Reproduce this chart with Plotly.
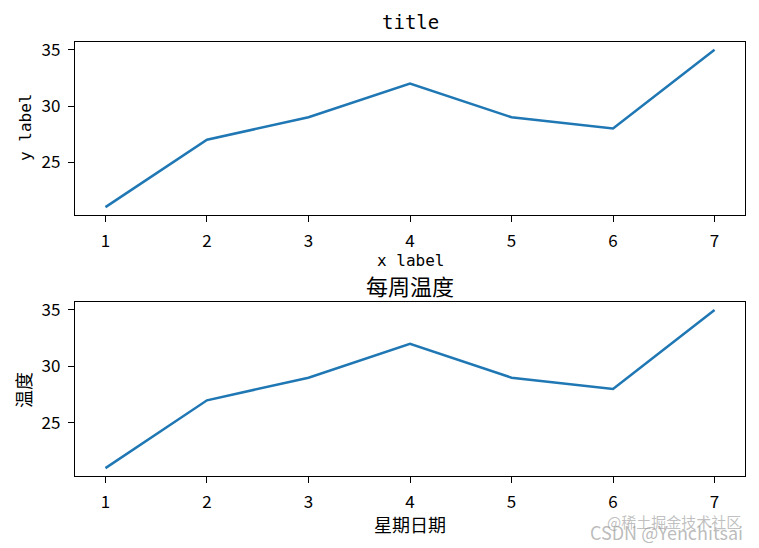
import plotly.graph_objects as go
from plotly.subplots import make_subplots

# weekly temperature data
days = [1, 2, 3, 4, 5, 6, 7]
temps = [21, 27, 29, 32, 29, 28, 35]
y_ticks = [25, 30, 35]

line_color = '#1f77b4'
cjk = 'Noto Sans CJK SC, SimHei, sans-serif'
mono = 'DejaVu Sans Mono, monospace'

W, H = 759, 548
L, R, T, B = 75, 14, 42, 72
plot_w = W - L - R
plot_h = H - T - B


def px(x):
    return (x - L) / plot_w


def py(y):
    return (H - B - y) / plot_h


fig = make_subplots(rows=2, cols=1)

fig.add_trace(go.Scatter(x=days, y=temps, mode='lines',
                         line=dict(color=line_color, width=2.5)), row=1, col=1)
fig.add_trace(go.Scatter(x=days, y=temps, mode='lines',
                         line=dict(color=line_color, width=2.5)), row=2, col=1)

axis_style = dict(
    showline=True, mirror=True, linecolor='black', linewidth=1.3,
    ticks='outside', ticklen=6, tickcolor='black', tickwidth=1.3,
    showgrid=False, zeroline=False, automargin=False,
    tickfont=dict(family=cjk, size=17, color='black'),
    ticklabelstandoff=4,
)

fig.update_xaxes(range=[0.7, 7.3], tickvals=days, domain=[0, 1], **axis_style)
fig.update_yaxes(range=[20.3, 35.7], tickvals=y_ticks, **axis_style)

fig.update_layout(
    yaxis=dict(domain=[py(215), py(42)]),
    yaxis2=dict(domain=[py(476), py(302)]),
)


def label(text, x, y, font, size, angle=0):
    return dict(text=text, x=px(x), y=py(y), xref='paper', yref='paper',
                xanchor='center', yanchor='middle', showarrow=False, textangle=angle,
                borderpad=0, font=dict(family=font, size=size, color='black'))


mid_x = (L + W - R) / 2
annotations = [
    label('title', mid_x, 22, mono, 19),
    label('x label', mid_x, 260, mono, 16),
    label('y label', 25, 128, mono, 16, -90),
    label('每周温度', mid_x, 285, cjk, 22),
    label('星期日期', mid_x, 524, cjk, 18),
    label('温度', 23, 390, cjk, 18, -90),
]

# watermark in the bottom-right corner
annotations.append(dict(text='@稀土掘金技术社区', x=px(742), y=py(521), xref='paper', yref='paper',
                        xanchor='right', yanchor='middle', showarrow=False, borderpad=0,
                        font=dict(family=cjk, size=15, color='rgba(150,150,150,0.6)')))
annotations.append(dict(text='CSDN @Yenchitsai', x=px(744), y=py(532), xref='paper', yref='paper',
                        xanchor='right', yanchor='middle', showarrow=False, borderpad=0,
                        font=dict(family=cjk, size=18, color='rgba(150,150,150,0.65)')))

fig.update_layout(
    width=W, height=H,
    margin=dict(l=L, r=R, t=T, b=B),
    paper_bgcolor='white', plot_bgcolor='white',
    showlegend=False,
    annotations=annotations,
)

# drop the browser's default body margin so the figure fills the window
fig.write_html("out.html", config={'displayModeBar': False},
               post_script="document.body.style.margin='0';")
